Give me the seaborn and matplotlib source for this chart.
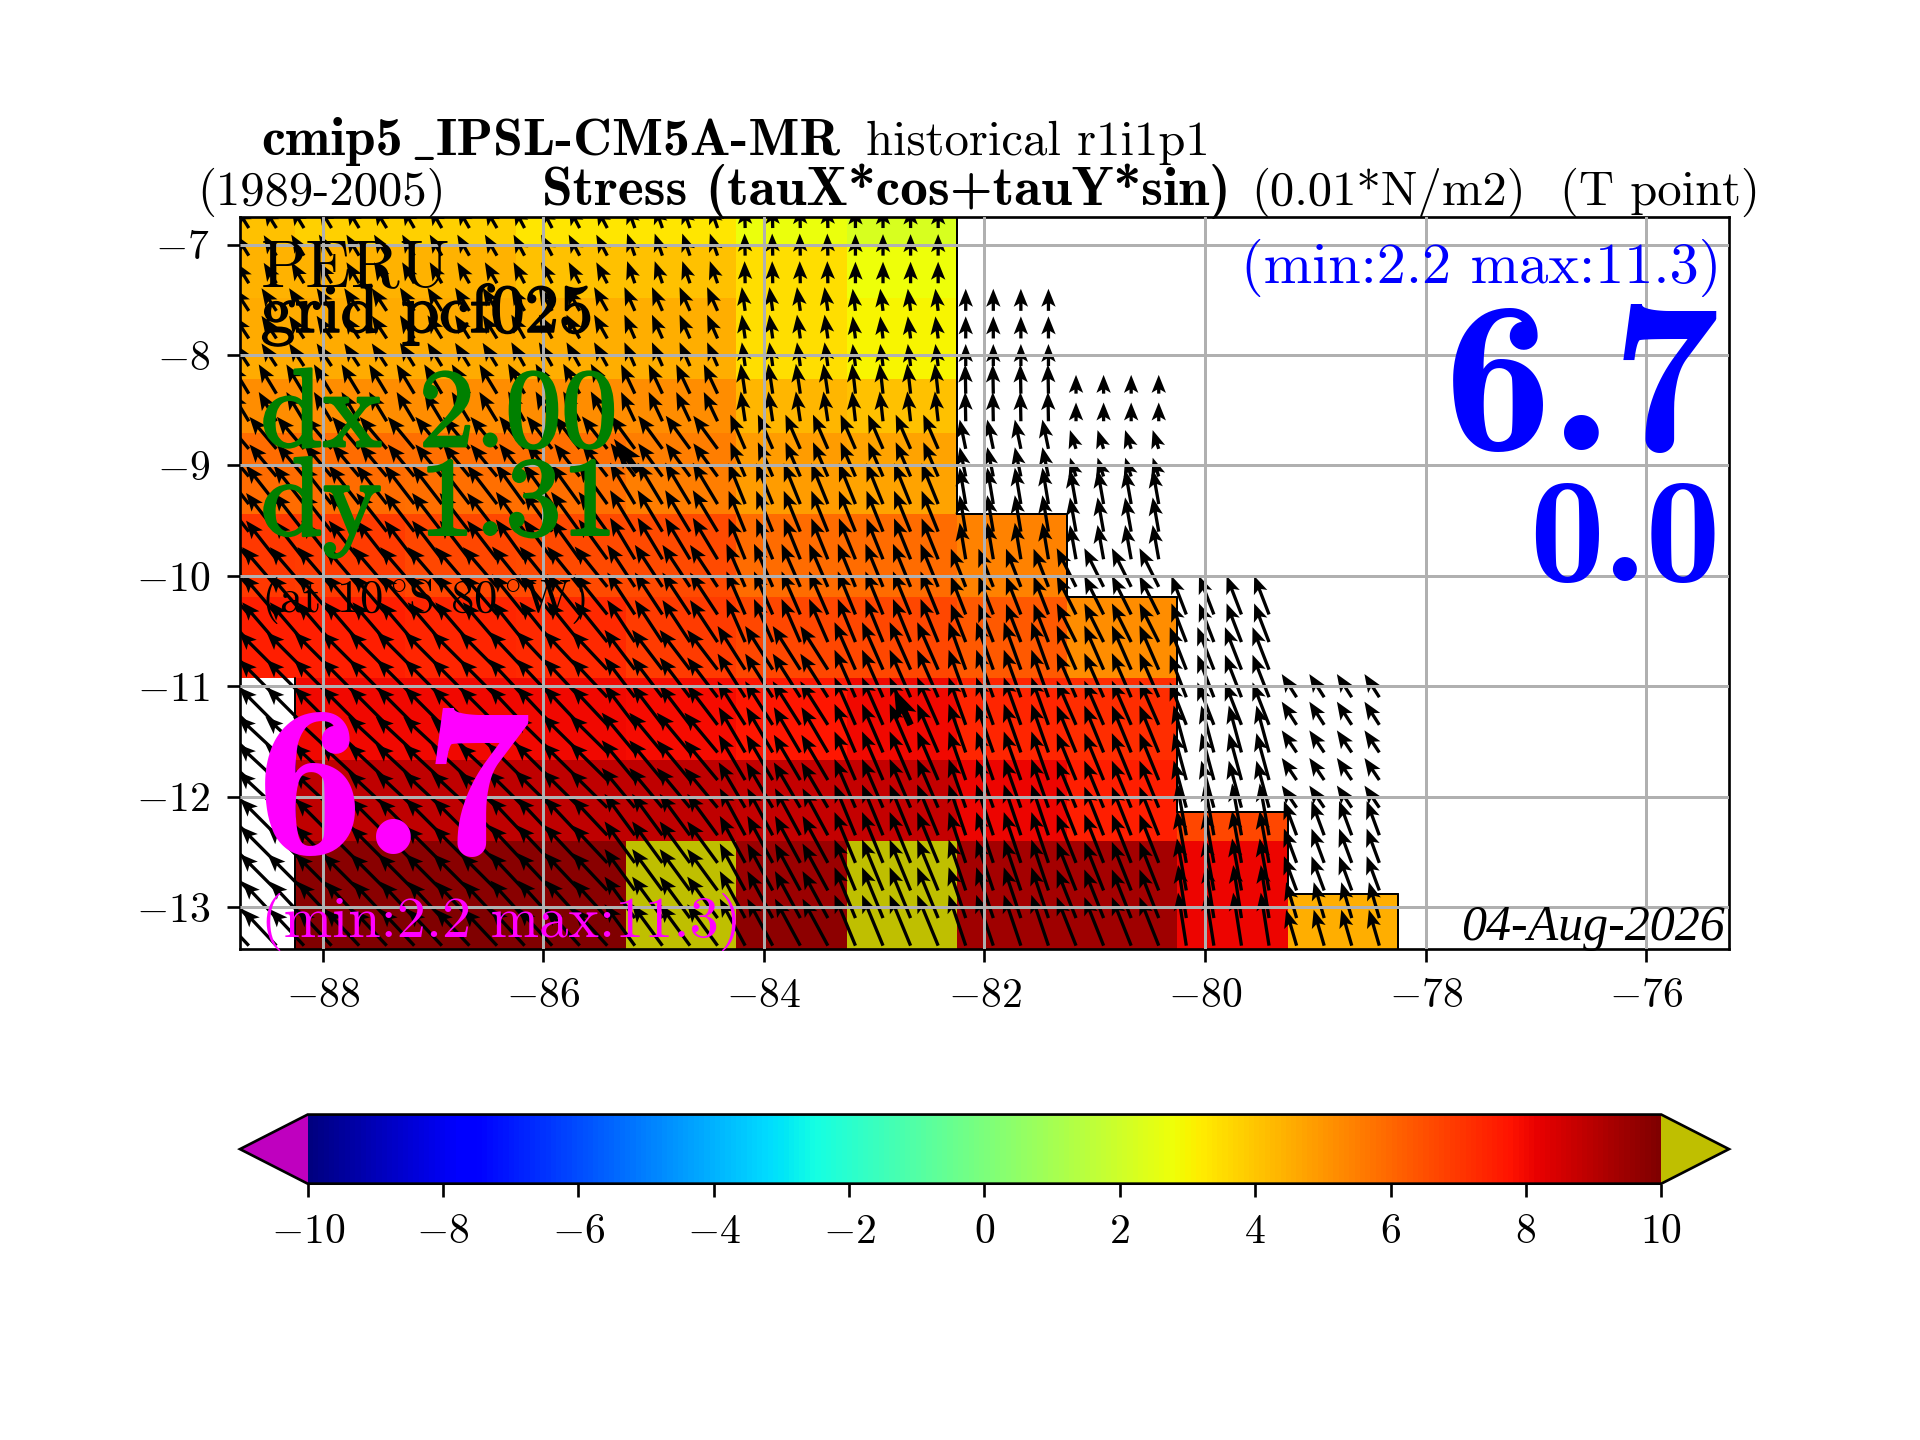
"""
Wind stress along the Peru coast: cell map, stress arrows and colour bar.
"""

import numpy as np
import matplotlib

matplotlib.use("Agg")
import matplotlib.pyplot as plt
import matplotlib.patheffects as pe
import seaborn as sns

sns.set_style("ticks")
plt.rcParams.update({
    "font.family": "cmr10",
    "mathtext.fontset": "cm",
    "axes.edgecolor": "black",
    "text.color": "black",
    "xtick.color": "black",
    "ytick.color": "black",
    "xtick.direction": "out",
    "ytick.direction": "out",
    "axes.linewidth": 0.8,
    "axes.formatter.use_mathtext": True,
    "axes.unicode_minus": False,
})

NAN = np.nan

# cell edges of the stress field (degrees)
COL_EDGES = [-88.75, -88.25, -87.25, -86.25, -85.25, -84.25, -83.25,
             -82.25, -81.25, -80.25, -79.25, -78.25]
ROW_EDGES = [-6.75, -7.0, -7.48, -8.22, -8.71, -9.44, -10.19, -10.93,
             -11.67, -12.14, -12.40, -12.88, -13.0, -13.38]

# stress component, 0.01 N/m2, north to south
CELL_VALUES = [
    [4.1, 3.8, 3.8, 3.3, 3.3, 2.7, 2.2, NAN, NAN, NAN, NAN],
    [4.4, 4.4, 4.4, 4.1, 4.1, 3.5, 2.8, NAN, NAN, NAN, NAN],
    [4.6, 4.6, 4.6, 4.5, 4.5, 3.5, 3.0, NAN, NAN, NAN, NAN],
    [5.2, 5.2, 5.2, 5.2, 5.2, 4.3, 4.1, NAN, NAN, NAN, NAN],
    [5.9, 5.9, 5.8, 5.8, 5.5, 4.9, 4.7, NAN, NAN, NAN, NAN],
    [7.0, 6.9, 6.7, 6.6, 6.6, 5.9, 5.9, 5.4, NAN, NAN, NAN],
    [7.5, 7.5, 7.4, 7.3, 6.9, 6.7, 6.7, 6.3, 5.2, NAN, NAN],
    [NAN, 8.0, 8.0, 8.0, 7.9, 7.7, 8.0, 7.4, 7.2, NAN, NAN],
    [NAN, 8.9, 8.9, 8.9, 8.9, 8.8, 8.8, 8.1, 7.5, NAN, NAN],
    [NAN, 8.9, 8.9, 8.9, 8.9, 8.8, 8.8, 8.1, 7.5, 6.7, NAN],
    [NAN, 9.8, 9.8, 9.8, 11.3, 9.5, 11.0, 9.3, 9.3, 8.1, NAN],
    [NAN, 9.8, 9.8, 9.8, 11.3, 9.5, 11.0, 9.3, 9.3, 8.1, 4.5],
    [NAN, 10.0, 10.0, 10.0, 11.3, 9.7, 11.0, 9.4, 9.4, 8.1, 4.5],
]

# arrows sit on their own rows
ARROW_ROW_EDGES = [-6.75, -7.48, -8.22, -8.71, -9.2, -9.95, -10.7,
                   -11.45, -12.2, -12.95, -13.38]
ARROW_X_START = -88.67
ARROW_Y_START = -6.85
ARROW_STEP = 0.25
# first arrow row (counted from the north) in each column
ARROW_FIRST_ROW = [0, 0, 0, 0, 0, 0, 0, 3, 6, 14, 17]

U_STRESS = [
    [-2.3, -2.3, -2.2, -2.0, -1.4, -0.1, 0.0, 0.0, 0.0, 0.0, 0.0],
    [-2.7, -2.7, -2.6, -2.4, -1.9, -0.6, -0.5, 0.0, 0.0, 0.0, 0.0],
    [-3.2, -3.2, -3.2, -3.0, -2.5, -0.8, -0.6, -0.1, 0.0, 0.0, 0.0],
    [-4.9, -4.9, -4.8, -4.6, -4.4, -2.7, -2.7, -1.1, -1.1, 0.0, 0.0],
    [-5.5, -5.5, -5.4, -5.2, -4.5, -3.0, -3.0, -1.1, -1.1, 0.0, 0.0],
    [-6.2, -6.2, -6.2, -5.9, -5.0, -3.4, -3.2, -2.7, -3.5, -2.7, 0.0],
    [-6.8, -6.8, -6.8, -6.5, -5.5, -5.0, -3.8, -3.1, -3.5, -3.0, -2.7],
    [-7.0, -7.0, -7.0, -6.8, -6.0, -4.8, -3.8, -3.1, -3.5, -2.3, -2.7],
    [-6.6, -6.6, -6.6, -6.4, -5.5, -4.6, -3.8, -3.1, -3.5, -1.7, -2.3],
    [-6.2, -6.2, -6.2, -6.2, -5.5, -4.6, -3.8, -3.1, -3.5, -1.5, -1.9],
]
V_STRESS = [
    [3.7, 3.8, 3.8, 3.8, 4.0, 4.0, 3.9, 0.0, 0.0, 0.0, 0.0],
    [4.1, 4.1, 4.2, 4.3, 4.3, 4.3, 4.0, 4.0, 0.0, 0.0, 0.0],
    [5.3, 5.3, 5.3, 5.4, 5.3, 5.4, 5.4, 5.3, 3.4, 0.0, 0.0],
    [5.8, 5.8, 5.8, 5.9, 6.0, 6.2, 6.2, 5.3, 3.4, 0.0, 0.0],
    [7.0, 7.0, 7.0, 7.2, 7.5, 7.4, 7.4, 6.6, 6.2, 0.0, 0.0],
    [7.2, 7.2, 7.2, 7.3, 7.6, 7.8, 7.8, 6.9, 7.0, 7.0, 0.0],
    [6.8, 6.8, 6.8, 6.9, 7.2, 7.9, 8.6, 8.6, 8.0, 7.7, 4.2],
    [6.5, 6.5, 6.5, 6.7, 7.2, 8.2, 8.8, 8.8, 8.5, 8.5, 4.0],
    [6.6, 6.6, 6.6, 6.8, 7.5, 8.5, 9.2, 9.2, 8.8, 9.4, 6.2],
    [6.6, 6.6, 6.6, 6.8, 7.5, 8.5, 9.2, 9.2, 8.8, 9.6, 6.5],
]

# two arrows of the field stand out with a heavier head
HEAVY_X = [-85.14, -82.67]
HEAVY_Y = [-9.06, -11.35]
HEAVY_U = [-4.4, -3.0]
HEAVY_V = [6.0, 6.5]

XTICKS = [-88, -86, -84, -82, -80, -78, -76]
YTICKS = [-13, -12, -11, -10, -9, -8, -7]
CBAR_TICKS = [-10, -8, -6, -4, -2, 0, 2, 4, 6, 8, 10]

fig = plt.figure(figsize=(8, 6), dpi=240)
ax = fig.add_axes([0.125, 0.341, 0.7755, 0.5083])

cmap = plt.get_cmap("jet").copy()
cmap.set_under("#bf00bf")
cmap.set_over("#bfbf00")
cmap.set_bad("white")

values = np.ma.masked_invalid(np.array(CELL_VALUES))
mesh = ax.pcolormesh(COL_EDGES, ROW_EDGES, values, cmap=cmap, vmin=-10, vmax=10, zorder=0.5)

# black stair line between sea cells and masked cells
mask = values.mask
n_rows, n_cols = mask.shape
for i in range(n_rows):
    for j in range(n_cols):
        if mask[i, j]:
            continue
        if j == n_cols - 1 or mask[i, j + 1]:
            ax.plot([COL_EDGES[j + 1]] * 2, ROW_EDGES[i:i + 2], color="k", lw=0.6, zorder=0.8)
        if j > 0 and mask[i, j - 1]:
            ax.plot([COL_EDGES[j]] * 2, ROW_EDGES[i:i + 2], color="k", lw=0.6, zorder=0.8)
        if i > 0 and mask[i - 1, j]:
            ax.plot(COL_EDGES[j:j + 2], [ROW_EDGES[i]] * 2, color="k", lw=0.6, zorder=0.8)

# one arrow every quarter degree, taken from the cell that holds its tail
xs, ys, us, vs = [], [], [], []
for col, first in enumerate(ARROW_FIRST_ROW):
    col_x = np.arange(ARROW_X_START, COL_EDGES[col + 1], ARROW_STEP)
    col_x = col_x[col_x >= COL_EDGES[col]]
    for k in range(first, 27):
        y = ARROW_Y_START - k * ARROW_STEP
        row = np.searchsorted(-np.array(ARROW_ROW_EDGES), -y) - 1
        for x in col_x:
            xs.append(x)
            ys.append(y)
            us.append(U_STRESS[row][col])
            vs.append(V_STRESS[row][col])

ax.quiver(xs, ys, us, vs, angles="xy", scale_units="xy", scale=20, color="k",
          width=0.0022, headwidth=4.4, headlength=5.5, headaxislength=4.5, zorder=1)
ax.quiver(HEAVY_X, HEAVY_Y, HEAVY_U, HEAVY_V, angles="xy", scale_units="xy", scale=20,
          color="k", width=0.0045, headwidth=3.2, headlength=4.5, headaxislength=3.8, zorder=1)

ax.set_xlim(-88.75, -75.25)
ax.set_ylim(-13.38, -6.75)
ax.set_xticks(XTICKS)
ax.set_xticklabels([f"${t}$" for t in XTICKS], fontsize=12.5)
ax.set_yticks(YTICKS)
ax.set_yticklabels([f"${t}$" for t in YTICKS], fontsize=12.5)
ax.grid(True, color="#b0b0b0", lw=0.9)
ax.set_axisbelow(False)
ax.tick_params(axis="x", length=4, width=0.8, pad=4.5)
ax.tick_params(axis="y", length=4, width=0.8, pad=5)


def label(x, y, text, stroke=0.0, **kw):
    t = ax.text(x, y, text, transform=ax.transAxes, va="baseline", zorder=5, **kw)
    if stroke:
        t.set_path_effects([pe.withStroke(linewidth=stroke, foreground=kw.get("color", "black"))])


label(0.014, 0.905, "PERU", fontsize=20)
label(0.014, 0.843, "grid pcf025", fontsize=20.5, stroke=0.5)
label(0.014, 0.687, "dx 2.00", fontsize=33.5, color="green", stroke=0.8)
label(0.014, 0.566, "dy 1.31", fontsize=33.5, color="green", stroke=0.8)
label(0.014, 0.46, r"(at 10$^\circ\!$S 80$^\circ\!$W)", fontsize=14)
label(0.0105, 0.13, "6.7", fontsize=65, color="magenta", family="cmb10")
label(0.014, 0.017, "(min:2.2 max:11.3)", fontsize=17.5, color="magenta")
label(0.995, 0.91, "(min:2.2 max:11.3)", fontsize=17.5, color="blue", ha="right")
label(0.9945, 0.682, "6.7", fontsize=65, color="blue", ha="right", family="cmb10")
label(0.9945, 0.503, "0.0", fontsize=45, color="blue", ha="right", family="cmb10")
label(0.997, 0.012, "04-Aug-2026", fontsize=15, ha="right",
      family="Liberation Serif", style="italic")


def head_text(x_px, y_px, text, size=14.6, **kw):
    fig.text(x_px / 1920, 1 - y_px / 1440, text, va="baseline", fontsize=size, zorder=6, **kw)


head_text(261, 155, "cmip5", size=16.3, family="cmb10")
head_text(411, 155, r"$\_$", size=14)
head_text(436, 155, "IPSL-CM5A-MR", size=16.1, family="cmb10")
head_text(866, 155, "historical r1i1p1")
head_text(197, 205, "(1989-2005)")
head_text(542, 205, "Stress (tauX*cos+tauY*sin)", size=16.6, family="cmb10")
head_text(1251, 205, "(0.01*N/m2)")
head_text(1560, 205, "(T point)")

cax = fig.add_axes([0.125, 0.178, 0.7755, 0.048])
cbar = fig.colorbar(mesh, cax=cax, orientation="horizontal", extend="both", ticks=CBAR_TICKS)
cbar.ax.set_xticklabels([f"${t}$" for t in CBAR_TICKS], fontsize=12.5)
cbar.ax.tick_params(length=4, width=0.8, pad=5)
cbar.outline.set_linewidth(0.8)

fig.savefig("out.png", dpi=240)
